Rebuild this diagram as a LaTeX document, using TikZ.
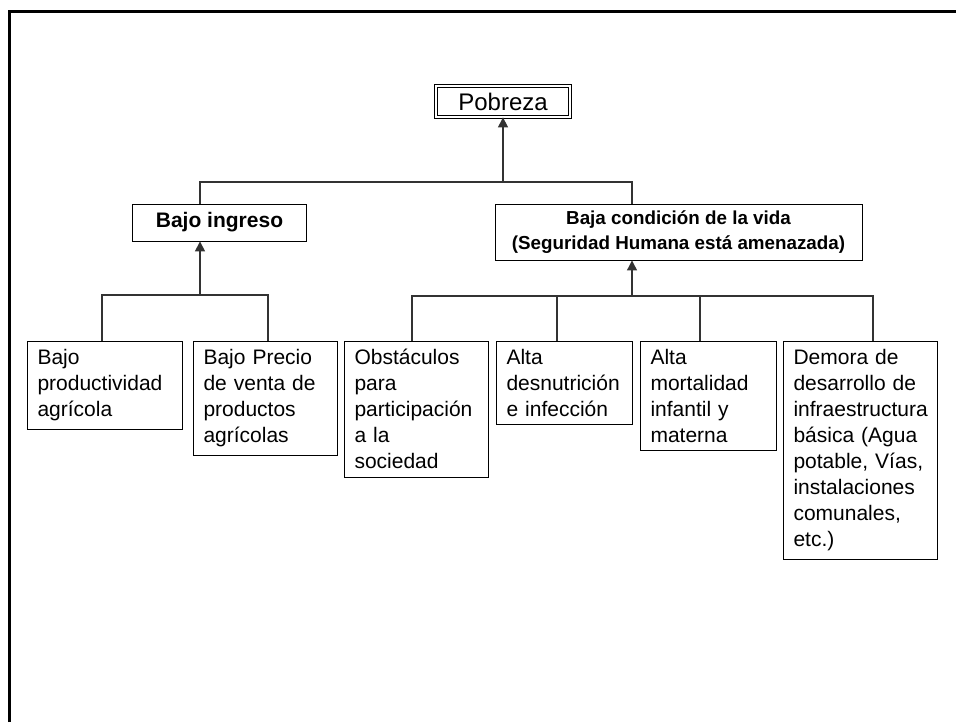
\documentclass[tikz,border=0pt]{standalone}
\usepackage{fontspec}
\setmainfont{Liberation Sans}
\usetikzlibrary{arrows.meta}
\begin{document}
\begin{tikzpicture}[x=0.5pt,y=-0.5pt,
	caja/.style={draw=black, line width=0.5pt, fill=white, anchor=north west, align=left,
		inner xsep=5pt, inner ysep=4pt, font=\fontsize{10.5}{13}\selectfont},
	linea/.style={draw=black!80, line width=0.6pt},
	flecha/.style={linea, -{Triangle[length=5pt,width=5pt]}}]
	\useasboundingbox (0,0) rectangle (956,722);
	\draw[line width=1.5pt] (9,722) -- (9,11.5) -- (956,11.5);

	\node (P)  at (503,101.5)	[draw, double, double distance=1pt, minimum width=67pt, minimum height=15.5pt, font=\fontsize{12}{14}\selectfont]	{Pobreza};
	\node (I)  at (219.5,222.5)	[draw, minimum width=87pt, minimum height=18.5pt, font=\bfseries\fontsize{10.5}{13}\selectfont]	{Bajo ingreso};
	\node (V)  at (678.5,232)	[draw, minimum width=183.5pt, minimum height=28pt, align=center, font=\bfseries\fontsize{9.4}{12.5}\selectfont]	{Baja condición de la vida\\(Seguridad Humana está amenazada)};

	\node (b1) at (27,341)	[caja, text width=67.5pt]	{Bajo\\productividad\\agrícola};
	\node (b2) at (193,341)	[caja, text width=62pt]	{Bajo Precio\\de venta de\\productos\\agrícolas};
	\node (b3) at (344,341)	[caja, text width=62pt]	{Obstáculos\\para\\participación\\a la\\sociedad};
	\node (b4) at (496,341)	[caja, text width=58pt]	{Alta\\desnutrición\\e infección};
	\node (b5) at (640,341)	[caja, text width=58pt]	{Alta\\mortalidad\\infantil y\\materna};
	\node (b6) at (783,341)	[caja, text width=67pt]	{Demora de\\desarrollo de\\infraestructura\\básica (Agua\\potable, Vías,\\instalaciones\\comunales,\\etc.)};

	\coordinate (r1) at (200,182);
	\coordinate (r2) at (632,182);
	\coordinate (s1) at (200,295);
	\coordinate (s1a) at (102,295);
	\coordinate (s1b) at (268,295);
	\coordinate (s2) at (632,296);
	\coordinate (t3) at (412,296);
	\coordinate (t4) at (557,296);
	\coordinate (t5) at (700,296);
	\coordinate (t6) at (873,296);

	\draw[flecha] (P |- r1) -- (P.south);
	\draw[linea] (I.north -| r1) -- (r1) -- (r2) -- (V.north -| r2);
	\draw[flecha] (s1) -- (s1 |- I.south);
	\draw[linea] (b1.north -| s1a) -- (s1a) -- (s1b) -- (b2.north -| s1b);
	\draw[flecha] (s2) -- (s2 |- V.south);
	\draw[linea] (b3.north -| t3) -- (t3) -- (t6) -- (b6.north -| t6);
	\draw[linea] (t4) -- (b4.north -| t4);
	\draw[linea] (t5) -- (b5.north -| t5);
\end{tikzpicture}
\end{document}
